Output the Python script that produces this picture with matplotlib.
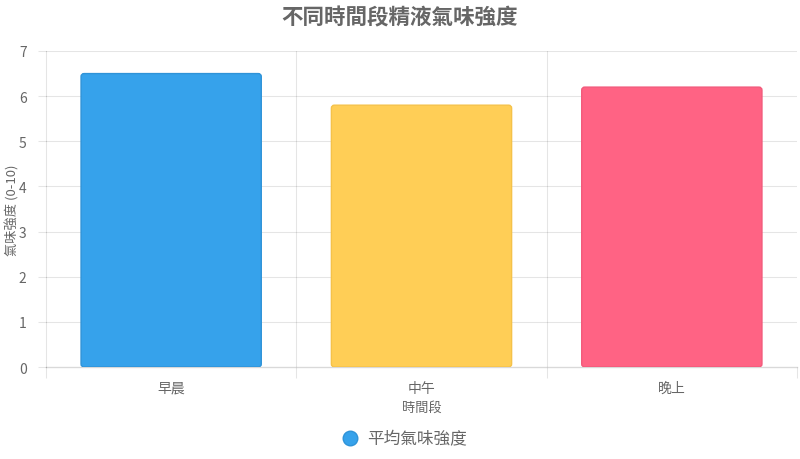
import matplotlib
matplotlib.use("Agg")
import matplotlib.pyplot as plt
from matplotlib.patches import FancyBboxPatch
from matplotlib.lines import Line2D

plt.rcParams['font.family'] = ['Noto Sans CJK TC', 'DejaVu Sans']

categories = ["早晨", "中午", "晚上"]
values = [6.5, 5.8, 6.2]
fill_colors = ["#36A2EB", "#FFCE56", "#FF6384"]
edge_colors = ["#2f93d8", "#f5c24a", "#f25a7b"]
series_name = "平均氣味強度"
title = "不同時間段精液氣味強度"
xlabel = "時間段"
ylabel = "氣味強度 (0-10)"
yticks = [0, 1, 2, 3, 4, 5, 6, 7]

fig = plt.figure(figsize=(8, 4.6), dpi=100)
ax = fig.add_axes([46/800, 1-368/460, (797-46)/800, (368-52)/460])

x = list(range(len(categories)))
bars = ax.bar(x, values, width=0.72, color=fill_colors, zorder=3)
ax.set_xlim(-0.5, len(categories)-0.5)
ax.set_ylim(0, 7)

# rounded tops
px_x = (len(categories)) / (797-46)
px_y = 7 / (368-52)
r = 3
for b, fc, ec in zip(bars, fill_colors, edge_colors):
    b.set_visible(False)
    p = FancyBboxPatch((b.get_x(), b.get_y()), b.get_width(), b.get_height(),
                       boxstyle=f"round,pad=0,rounding_size={r*px_x}",
                       mutation_aspect=px_y/px_x,
                       facecolor=fc, edgecolor=ec, linewidth=1, zorder=3)
    ax.add_patch(p)

grid_c = (0, 0, 0, 0.1)
ax.set_yticks(yticks)
ax.set_yticklabels([str(t) for t in yticks])
for t in yticks[1:]:
    ax.axhline(t, color=grid_c, lw=0.8, zorder=1)
for bnd in [0.5, 1.5]:
    ax.axvline(bnd, color=grid_c, lw=0.8, zorder=1)

ax.set_xticks(x)
ax.set_xticklabels(categories)
ax.set_xticks([-0.5, 0.5, 1.5, 2.5], minor=True)
ax.tick_params(axis='x', which='major', length=0, pad=10, labelsize=10, labelcolor="#666666")
ax.tick_params(axis='x', which='minor', length=8, color=grid_c, width=0.8)
ax.tick_params(axis='y', length=6, color=grid_c, width=0.8, pad=8, labelsize=10, labelcolor="#666666")

for s in ['top', 'right']:
    ax.spines[s].set_visible(False)
ax.spines['left'].set_color(grid_c)
ax.spines['left'].set_linewidth(0.8)
ax.spines['bottom'].set_color((0, 0, 0, 0.15))
ax.spines['bottom'].set_linewidth(1)

ax.set_xlabel(xlabel, fontsize=9.5, color="#666666")
ax.xaxis.set_label_coords(0.5, -(402-368)/316)
ax.set_ylabel(ylabel, fontsize=9.5, color="#666666", va='center')
ax.yaxis.set_label_coords(-(46-12)/751, 0.5)

fig.text(0.5, 1-18/460, title, ha='center', va='center', fontsize=15.5,
         fontweight='bold', color="#666666")

handle = Line2D([], [], marker='o', linestyle='none', markersize=10.5,
                markerfacecolor=fill_colors[0], markeredgecolor=edge_colors[0])
fig.legend([handle], [series_name], loc='center', bbox_to_anchor=(0.5, 1-440/460),
           frameon=False, fontsize=12, labelcolor="#666666", handletextpad=0.0)

fig.savefig("out.png", dpi=100)
